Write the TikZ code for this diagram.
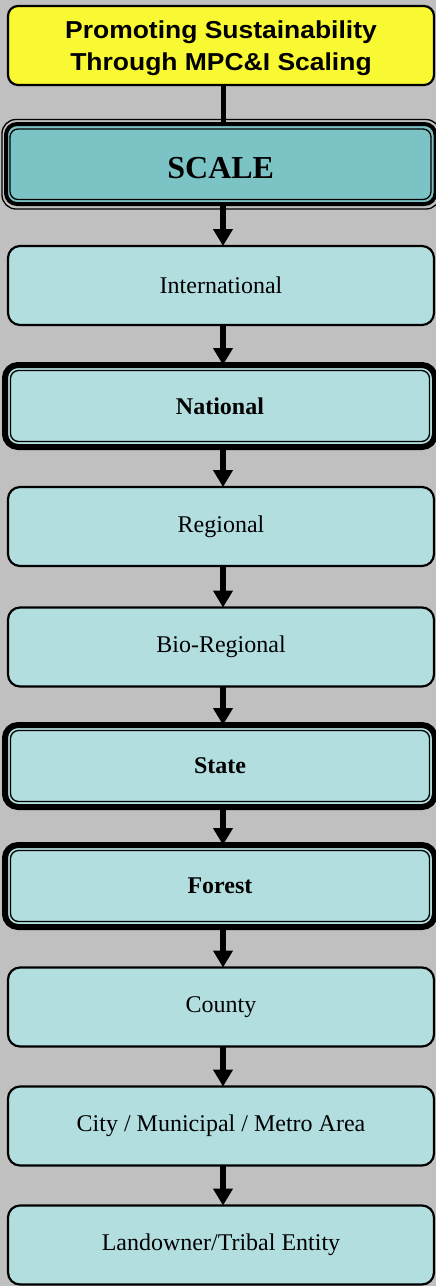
\documentclass[tikz,border=0pt]{standalone}
\usepackage{fontspec}
\setmainfont{Liberation Serif}
\newfontfamily\titlefont[FakeStretch=1.08]{Liberation Sans}
\usetikzlibrary{arrows.meta}
\definecolor{bg}{HTML}{C0C0C0}
\definecolor{ttl}{HTML}{F9F933}
\definecolor{lbox}{HTML}{B2DEE0}
\definecolor{sbox}{HTML}{7CC3C6}
\begin{document}
\begin{tikzpicture}[x=1pt,y=-1pt,
  titlebox/.style={draw=black, line width=2.2pt, fill=ttl, rounded corners=10pt, inner sep=0pt, outer sep=0pt,
    minimum width=426pt, minimum height=79pt, align=center, text depth=0pt,
    font=\titlefont\bfseries\fontsize{24.5}{31.7}\selectfont},
  plainbox/.style={draw=black, line width=2.2pt, fill=lbox, rounded corners=12pt, inner sep=0pt, outer sep=0pt,
    minimum width=426pt, minimum height=79pt, font=\fontsize{24}{28}\selectfont},
  heavybox/.style={draw=black, line width=6pt, fill=lbox, rounded corners=13pt, inner sep=0pt, outer sep=0pt,
    minimum width=430pt, minimum height=82pt, font=\fontsize{24}{28}\selectfont\bfseries},
  scalebox/.style={draw=black, line width=4pt, fill=sbox, rounded corners=11pt, inner sep=0pt, outer sep=0pt,
    minimum width=429.5pt, minimum height=80pt, text height=29.5pt, text depth=0pt,
    font=\fontsize{32}{36}\selectfont\bfseries},
  thinline/.style={draw=black, line width=1.3pt, rounded corners=8pt},
  conn/.style={line width=5.5pt, -{Triangle[width=19pt,length=17pt]}},
  plainconn/.style={line width=5pt},
]
\fill[bg] (0,0) rectangle (436,1286);
\useasboundingbox (0,0) rectangle (436,1286);
\clip (0,0) rectangle (436,1286);
\coordinate (ax) at (223,0);

\node[titlebox] (title) at (221,45.5) {Promoting Sustainability\\Through MPC\&I Scaling};
\node[scalebox] (scale) at (220.75,164) {SCALE};
\draw[thinline, rounded corners=14pt] ([xshift=-4pt,yshift=4.5pt]scale.north west) rectangle ([xshift=4.5pt,yshift=-5pt]scale.south east);
\draw[thinline] ([xshift=4pt,yshift=-5pt]scale.north west) rectangle ([xshift=-4.5pt,yshift=4.5pt]scale.south east);

\node[plainbox] (intl) at (221,285.5) {International};
\node[heavybox] (nat) at (220,406) {National};
\node[plainbox] (reg) at (221,526.5) {Regional};
\node[plainbox] (bio) at (221,647) {Bio-Regional};
\node[heavybox] (state) at (220,766) {State};
\node[heavybox] (forest) at (220,886) {Forest};
\node[plainbox] (county) at (221,1007) {County};
\node[plainbox] (city) at (221,1126) {City / Municipal / Metro Area};
\node[plainbox] (land) at (221,1245) {Landowner/Tribal Entity};

\foreach \n in {nat,state,forest}{
  \draw[thinline] ([xshift=5.5pt,yshift=-5.5pt]\n.north west) rectangle ([xshift=-5.5pt,yshift=5.5pt]\n.south east);
}

\draw[plainconn] (title.south -| ax) -- (scale.north -| ax);
\draw[conn] (scale.south -| ax) -- (intl.north -| ax);
\draw[conn] (intl.south -| ax) -- (nat.north -| ax);
\draw[conn] (nat.south -| ax) -- (reg.north -| ax);
\draw[conn] (reg.south -| ax) -- (bio.north -| ax);
\draw[conn] (bio.south -| ax) -- (state.north -| ax);
\draw[conn] (state.south -| ax) -- (forest.north -| ax);
\draw[conn] (forest.south -| ax) -- (county.north -| ax);
\draw[conn] (county.south -| ax) -- (city.north -| ax);
\draw[conn] (city.south -| ax) -- (land.north -| ax);
\end{tikzpicture}
\end{document}
